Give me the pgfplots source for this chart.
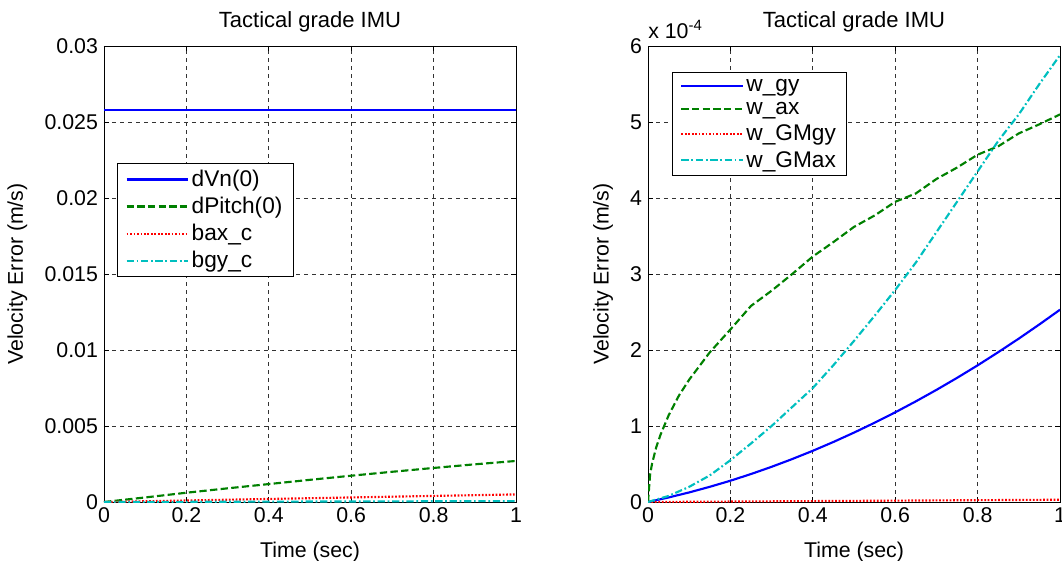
\documentclass[border=0pt]{standalone}
\usepackage{pgfplots}
\pgfplotsset{compat=1.18}
\usepackage{fontspec}
\setmainfont{Liberation Sans}
\definecolor{mgreen}{rgb}{0,0.5,0}
\definecolor{mcyan}{rgb}{0,0.75,0.75}
\pgfplotsset{
  mstyle/.style={
    width=309pt, height=342pt, scale only axis,
    xmin=0, xmax=1,
    scaled y ticks=false, scaled x ticks=false,
    xtick={0,0.2,0.4,0.6,0.8,1},
    xticklabels={0,0.2,0.4,0.6,0.8,1},
    tick align=inside, tick pos=both,
    major tick length=4pt,
    every tick/.style={black, line width=0.5pt},
    grid=major,
    major grid style={black!80, dash pattern=on 3pt off 3pt, line width=0.5pt},
    axis line style={black, line width=0.6pt},
    tick label style={font=\fontsize{16}{19}\selectfont},
    xticklabel style={yshift=-1pt},
    yticklabel style={xshift=-1pt},
    label style={font=\fontsize{16}{19}\selectfont},
    title style={font=\fontsize{16.5}{19}\selectfont, yshift=1pt},
    xlabel={Time (sec)},
    ylabel={Velocity Error (m/s)},
    title={Tactical grade IMU},
    xlabel style={yshift=-7pt},
    ylabel style={yshift=6pt},
    legend style={font=\fontsize{17}{20}\selectfont, draw=black, line width=0.6pt, fill=white,
      inner xsep=6pt, inner ysep=3pt, row sep=2.5pt},
    legend cell align=left,
    legend image code/.code={\draw[#1] (0pt,0pt) -- (46pt,0pt);},
    /pgf/number format/assume math mode=true,
  },
  s1/.style={blue, line width=1.6pt},
  s2/.style={mgreen, line width=1.6pt, dash pattern=on 5.5pt off 2.5pt},
  s3/.style={red, line width=1.6pt, dash pattern=on 1.3pt off 1.3pt},
  s4/.style={mcyan, line width=1.6pt, dash pattern=on 5.5pt off 2pt on 1.3pt off 2pt},
}
\begin{document}
\begin{tikzpicture}
\useasboundingbox (0,0) rectangle (796.5pt,420pt);
\begin{axis}[mstyle, at={(78pt,43.5pt)}, anchor=south west,
  ymin=0, ymax=0.03,
  ytick={0,0.005,0.01,0.015,0.02,0.025,0.03},
  yticklabels={0,0.005,0.01,0.015,0.02,0.025,0.03},
  legend style={at={(0.032,0.743)}, anchor=north west}]
\addplot[s1] coordinates {(0,0.0258) (1,0.0258)};
\addplot[s2] coordinates {(0,0) (0.1,0.00030) (0.2,0.00061) (0.3,0.00090) (0.4,0.00118) (0.5,0.00146) (0.6,0.00173) (0.7,0.00199) (0.8,0.00224) (0.9,0.00248) (1.0,0.00270)};
\addplot[s3] coordinates {(0,0) (0.2,0.0001) (0.4,0.0002) (0.6,0.0003) (0.8,0.0004) (1,0.0005)};
\addplot[s4] coordinates {(0,0) (0.5,0.00003) (1,0.00006)};
\legend{dVn(0),dPitch(0),bax\_c,bgy\_c}
\end{axis}
\begin{axis}[mstyle, at={(486pt,43.5pt)}, anchor=south west, name=r,
  ymin=0, ymax=6,
  ytick={0,1,2,3,4,5,6},
  yticklabels={0,1,2,3,4,5,6},
  legend style={at={(0.058,0.943)}, anchor=north west}]
\addplot[s1] coordinates {(0,0) (0.05,0.060) (0.1,0.126) (0.15,0.200) (0.2,0.280) (0.25,0.368) (0.3,0.463) (0.35,0.565) (0.4,0.674) (0.45,0.790) (0.5,0.913) (0.55,1.043) (0.6,1.180) (0.65,1.324) (0.7,1.475) (0.75,1.633) (0.8,1.798) (0.85,1.971) (0.9,2.150) (0.95,2.337) (1,2.530)};
\addplot[s2] coordinates {(0,0) (0.005,0.36) (0.01,0.51) (0.02,0.72) (0.03,0.88) (0.05,1.14) (0.075,1.40) (0.1,1.61) (0.15,1.97) (0.2,2.27) (0.25,2.58) (0.3,2.78) (0.35,3.00) (0.4,3.23) (0.45,3.42) (0.5,3.62) (0.55,3.77) (0.6,3.95) (0.65,4.06) (0.7,4.25) (0.75,4.40) (0.8,4.57) (0.85,4.68) (0.9,4.85) (0.95,4.97) (1,5.10)};
\addplot[s3] coordinates {(0,0) (0.5,0.015) (1,0.03)};
\addplot[s4] coordinates {(0,0) (0.05,0.08) (0.1,0.20) (0.15,0.35) (0.2,0.55) (0.25,0.77) (0.3,1.00) (0.35,1.25) (0.4,1.50) (0.45,1.80) (0.5,2.12) (0.55,2.45) (0.6,2.79) (0.65,3.15) (0.7,3.55) (0.75,3.95) (0.8,4.35) (0.85,4.75) (0.9,5.10) (0.95,5.50) (1,5.88)};
\legend{w\_gy,w\_ax,w\_GMgy,w\_GMax}
\end{axis}
\node[anchor=south west, inner sep=0pt, font=\fontsize{16}{19}\selectfont] at ([yshift=5pt]r.north west) {x 10\textsuperscript{-4}};
\end{tikzpicture}
\end{document}
